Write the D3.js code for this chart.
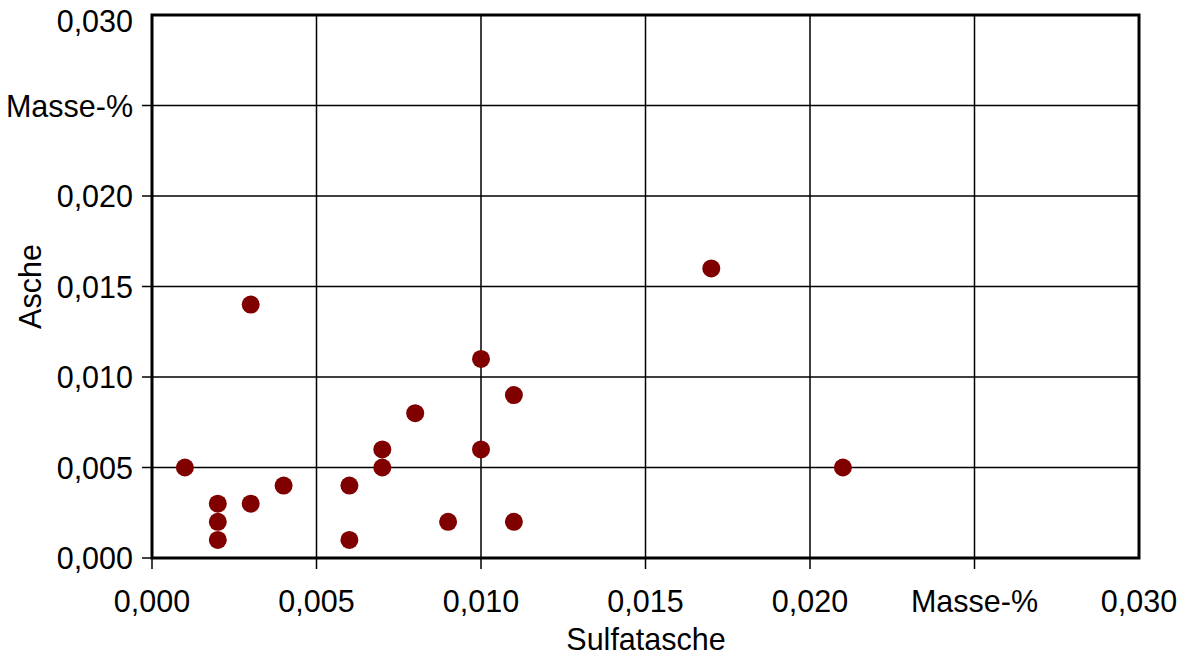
<!DOCTYPE html>
<html><head><meta charset="utf-8">
<script src="https://cdn.jsdelivr.net/npm/d3@7"></script>
<style>body{margin:0;background:#fff}svg text{font-family:"Liberation Sans",Arial,sans-serif;fill:#000}</style>
</head><body><svg id="c" width="1190" height="657"></svg>
<script>
const sulfatasche = [0.001,0.002,0.002,0.002,0.003,0.003,0.004,0.006,0.006,0.007,0.007,0.008,0.009,0.010,0.010,0.011,0.011,0.017,0.021];
const asche       = [0.005,0.003,0.002,0.001,0.003,0.014,0.004,0.004,0.001,0.006,0.005,0.008,0.002,0.011,0.006,0.009,0.002,0.016,0.005];
const tickValues = [0,0.005,0.010,0.015,0.020,0.025,0.030];
const xTickLabels = ["0,000","0,005","0,010","0,015","0,020","Masse-%","0,030"];
const yTickLabels = ["0,000","0,005","0,010","0,015","0,020","Masse-%","0,030"];

const svg = d3.select("#c");
const L=152,R=1139,T=15,B=558;
const FS=30.5;
const x = d3.scaleLinear().domain([0,0.03]).range([L,R]);
const y = d3.scaleLinear().domain([0,0.03]).range([B,T]);

// grid
svg.append("g").selectAll("line").data(tickValues.slice(1,-1)).join("line")
  .attr("x1",d=>x(d)).attr("x2",d=>x(d)).attr("y1",T).attr("y2",B+11)
  .attr("stroke","#000").attr("stroke-width",1.5);
svg.append("g").selectAll("line").data(tickValues.slice(1,-1)).join("line")
  .attr("y1",d=>y(d)).attr("y2",d=>y(d)).attr("x1",L-10).attr("x2",R)
  .attr("stroke","#000").attr("stroke-width",1.5);
// outer ticks at 0
svg.append("line").attr("x1",L-10).attr("x2",L).attr("y1",B).attr("y2",B).attr("stroke","#000").attr("stroke-width",1.5);
svg.append("line").attr("x1",L).attr("x2",L).attr("y1",B).attr("y2",B+11).attr("stroke","#000").attr("stroke-width",1.5);
// frame
svg.append("rect").attr("x",L).attr("y",T).attr("width",R-L).attr("height",B-T)
  .attr("fill","none").attr("stroke","#000").attr("stroke-width",3);

// tick labels
svg.append("g").selectAll("text").data(tickValues).join("text")
  .attr("x",d=>x(d)).attr("y",612).attr("text-anchor","middle")
  .attr("font-size",FS).text((d,i)=>xTickLabels[i]);
svg.append("g").selectAll("text").data(tickValues).join("text")
  .attr("x",133).attr("y",d=>Math.max(y(d)+11,32)).attr("text-anchor","end")
  .attr("font-size",FS).text((d,i)=>yTickLabels[i]);

// axis titles
svg.append("text").attr("x",646).attr("y",650).attr("text-anchor","middle")
  .attr("font-size",FS).text("Sulfatasche");
svg.append("text").attr("transform",`translate(41,${y(0.015)}) rotate(-90)`).attr("text-anchor","middle")
  .attr("font-size",FS).text("Asche");

// points
svg.append("g").selectAll("circle").data(sulfatasche).join("circle")
  .attr("cx",d=>x(d)).attr("cy",(d,i)=>y(asche[i])).attr("r",9)
  .attr("fill","#800000");
</script></body></html>
